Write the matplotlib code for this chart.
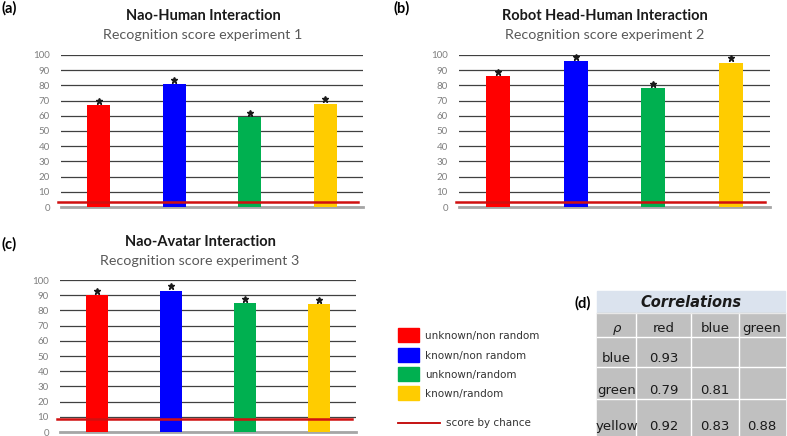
import matplotlib.pyplot as plt
from matplotlib.patches import Rectangle
from matplotlib.lines import Line2D

# data
categories = ["unknown/non random", "known/non random", "unknown/random", "known/random"]
colors = ["#ff0000", "#0000ff", "#00b050", "#ffcc00"]
scores_exp1 = [67, 81, 59, 68]
scores_exp2 = [86, 96, 78, 95]
scores_exp3 = [90, 93, 85, 84]
chance_exp1 = 3.5
chance_exp2 = 3.5
chance_exp3 = 8.5

corr_cols = ["red", "blue", "green"]
corr_rows = ["blue", "green", "yellow"]
corr_vals = [["0.93", "", ""],
             ["0.79", "0.81", ""],
             ["0.92", "0.83", "0.88"]]

W, H = 787, 436
fig = plt.figure(figsize=(W / 100, H / 100), dpi=100)
plt.rcParams['font.family'] = ['Lato', 'DejaVu Sans']


def px_axes(x0, x1, ytop, ybot):
    return fig.add_axes([x0 / W, 1 - ybot / H, (x1 - x0) / W, (ybot - ytop) / H])


def drawPanel(box, scores, chance, title, subtitle, label, title_pos, label_pos):
    ax = px_axes(*box)
    xs = list(range(len(scores)))
    ax.bar(xs, scores, width=0.31, color=colors, zorder=3)
    # significance stars sitting on top of the bars
    ax.plot(xs, [s + 2.8 for s in scores], ls="none", marker="*", ms=4.8,
            color="#1a1a1a", clip_on=False, zorder=4)
    ax.set_xlim(-0.5, len(scores) - 0.5)
    ax.set_ylim(0, 100)
    ax.set_yticks(range(0, 101, 10))
    ax.set_xticks([])
    ax.yaxis.grid(True, color="#404040", lw=0.9, zorder=1)
    for s in ["top", "right", "left"]:
        ax.spines[s].set_visible(False)
    ax.spines["bottom"].set_color("#a6a6a6")
    ax.spines["bottom"].set_linewidth(2)
    ax.tick_params(axis="y", length=0, labelsize=7, labelcolor="#7f7f7f", pad=8)
    ax.axhline(chance, xmin=-0.01, xmax=0.985, color="#d01010", lw=1.8,
               clip_on=False, zorder=5)
    tx, ty = title_pos
    fig.text(tx / W, 1 - ty / H, title, ha="center", va="center",
             fontsize=10.5, fontweight="bold", color="#1a1a1a")
    fig.text(tx / W, 1 - (ty + 19) / H, subtitle, ha="center", va="center",
             fontsize=10.3, color="#595959")
    fig.text(label_pos[0] / W, 1 - label_pos[1] / H, label, ha="left",
             va="center", fontsize=10.5, fontweight="bold")


drawPanel((61, 363, 55, 207), scores_exp1, chance_exp1, "Nao-Human Interaction",
          "Recognition score experiment 1", "(a)", (203, 16), (2, 8))
drawPanel((459, 770, 55, 207), scores_exp2, chance_exp2, "Robot Head-Human Interaction",
          "Recognition score experiment 2", "(b)", (605, 16), (393, 8))
drawPanel((60, 356, 280, 432), scores_exp3, chance_exp3, "Nao-Avatar Interaction",
          "Recognition score experiment 3", "(c)", (200, 242), (2, 244))

# overlay axes in pixel coordinates for legend and table
ov = fig.add_axes([0, 0, 1, 1])
ov.set_xlim(0, W)
ov.set_ylim(H, 0)
ov.axis("off")

# legend
patch_y = [328, 348, 367, 386]
for c, name, y in zip(colors, categories, patch_y):
    ov.add_patch(Rectangle((398, y), 21, 14, color=c))
    ov.text(425, y + 8, name, ha="left", va="center", fontsize=7.5,
            family="DejaVu Sans", color="#333333")
ov.add_line(Line2D([398, 440], [423, 423], color="#c00000", lw=1.3))
ov.text(446, 423, "score by chance", ha="left", va="center", fontsize=7.5,
        family="DejaVu Sans", color="#333333")

# correlation table
col_edges = [597, 636, 691, 739, 785]
row_edges = [313, 337, 367, 399, 435]
ov.add_patch(Rectangle((597, 291), 188, 22, color="#dbe3ee"))
ov.text(691, 302, "Correlations", ha="center", va="center", fontsize=10.5,
        style="italic", fontweight="semibold", color="#1a1a1a", family="DejaVu Sans")
ov.add_patch(Rectangle((597, 313), 188, 122, color="#c0c0c0"))
for x in col_edges[1:-1]:
    ov.add_line(Line2D([x, x], [313, 435], color="white", lw=1))
for y in row_edges[1:-1]:
    ov.add_line(Line2D([597, 785], [y, y], color="white", lw=1))
ov.add_line(Line2D([597, 785], [313, 313], color="#e8e8e8", lw=1))

header = ["ρ"] + corr_cols
for j, txt in enumerate(header):
    cx = (col_edges[j] + col_edges[j + 1]) / 2
    ov.text(cx, row_edges[1] - 2, txt, ha="center", va="bottom", fontsize=9.5,
            color="#1a1a1a", family="DejaVu Sans",
            style="italic" if j == 0 else "normal")
for i, rname in enumerate(corr_rows):
    yb = row_edges[i + 2] - 2
    cells = [rname] + corr_vals[i]
    for j, txt in enumerate(cells):
        cx = (col_edges[j] + col_edges[j + 1]) / 2
        ov.text(cx, yb, txt, ha="center", va="bottom", fontsize=9.5,
                color="#1a1a1a", family="DejaVu Sans")
ov.text(583, 303, "(d)", ha="center", va="center", fontsize=10.5, fontweight="bold")

fig.savefig("out.png", dpi=100)
